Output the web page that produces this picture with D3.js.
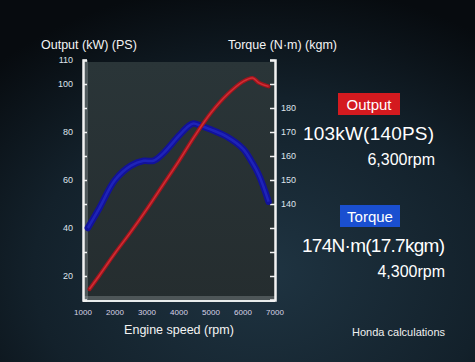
<!DOCTYPE html>
<html><head><meta charset="utf-8">
<script src="https://cdn.jsdelivr.net/npm/d3@7"></script>
<style>html,body{margin:0;padding:0;background:#000;}svg{display:block;}</style>
</head><body>
<script>
// ---- data ----
const rpmOutput = [1200, 1500, 2000, 2500, 3000, 3500, 4000, 4500, 5000, 5500, 6000, 6300, 6500, 6800];
const outputKW  = [14.5, 20, 29.5, 38.5, 48, 58, 68, 78.5, 88, 95.5, 101, 102.5, 100.5, 99];
const rpmTorque = [1150, 1500, 2000, 2500, 2900, 3200, 3500, 4000, 4300, 4450, 4700, 5000, 5500, 6000, 6300, 6500, 6800];
const torqueNm  = [130, 138, 150, 156, 158, 158, 161, 168.5, 172.5, 173.5, 172.5, 171, 168, 163, 157, 152, 141];
const xTicks = [1000, 2000, 3000, 4000, 5000, 6000, 7000];
const leftTicks = [20, 30, 40, 50, 60, 70, 80, 90, 100, 110];
const leftLabels = [20, 40, 60, 80, 100, 110];
const rightTicks = [110, 120, 130, 140, 150, 160, 170, 180, 190, 200];
const rightLabels = [140, 150, 160, 170, 180];

const W = 475, H = 362;
const svg = d3.select("body").append("svg").attr("width", W).attr("height", H);
const defs = svg.append("defs");

const bg = defs.append("radialGradient").attr("id", "bg").attr("cx", "0.55").attr("cy", "0.75").attr("r", "0.8");
bg.append("stop").attr("offset", "0").attr("stop-color", "#1f3442");
bg.append("stop").attr("offset", "0.6").attr("stop-color", "#13212b");
bg.append("stop").attr("offset", "1").attr("stop-color", "#070b0f");
svg.append("rect").attr("width", W).attr("height", H).attr("fill", "url(#bg)");

const pg = defs.append("linearGradient").attr("id", "pg").attr("x1", 0).attr("y1", 0).attr("x2", 0).attr("y2", 1);
pg.append("stop").attr("offset", "0").attr("stop-color", "#2a3538");
pg.append("stop").attr("offset", "1").attr("stop-color", "#252d2f");

const x = d3.scaleLinear().domain([1000, 7000]).range([83, 275]);
const yL = d3.scaleLinear().domain([10, 110]).range([300, 60]);
const yR = d3.scaleLinear().domain([100, 200]).range([300, 60]);

// plot area
svg.append("rect").attr("x", x(1000)).attr("y", yL(110) + 2).attr("width", x(7000) - x(1000)).attr("height", yL(10) - yL(110) - 2)
  .attr("fill", "url(#pg)");
// light frame bands
svg.append("rect").attr("x", x(1000)).attr("y", yL(110)).attr("width", 5).attr("height", yL(10) - yL(110))
  .attr("fill", "#9aa4a6").attr("opacity", 0.35);
svg.append("rect").attr("x", x(1000)).attr("y", yL(10) - 4).attr("width", x(7000) - x(1000)).attr("height", 4)
  .attr("fill", "#9aa4a6").attr("opacity", 0.35);
svg.append("line").attr("x1", x(1000)).attr("x2", x(7000)).attr("y1", yL(10) + 1).attr("y2", yL(10) + 1)
  .attr("stroke", "#e8ecec").attr("stroke-width", 2);

const font = "'Liberation Sans', Arial, sans-serif";

// left axis
const gl = svg.append("g").attr("transform", `translate(${x(1000)},0)`)
  .call(d3.axisRight(yL).tickValues(leftTicks).tickSize(4).tickFormat(""));
gl.select(".domain").attr("stroke", "#f2f2f2").attr("stroke-width", 2.5);
gl.selectAll(".tick line").attr("stroke", "#f2f2f2").attr("stroke-width", 1.5);
svg.append("g").selectAll("text").data(leftLabels).join("text")
  .attr("x", 73).attr("y", d => yL(d)).attr("dy", "0.35em").attr("text-anchor", "end")
  .attr("font-family", font).attr("font-size", 9).attr("fill", "#dfe3ec").text(d => d);

// right axis
const gr = svg.append("g").attr("transform", `translate(${x(7000)},0)`)
  .call(d3.axisLeft(yR).tickValues(rightTicks).tickSize(5).tickFormat(""));
gr.select(".domain").attr("stroke", "#f2f2f2").attr("stroke-width", 2.5);
gr.selectAll(".tick line").attr("stroke", "#f2f2f2").attr("stroke-width", 1.5);
svg.append("g").selectAll("text").data(rightLabels).join("text")
  .attr("x", 281).attr("y", d => yR(d)).attr("dy", "0.35em").attr("text-anchor", "start")
  .attr("font-family", font).attr("font-size", 9).attr("fill", "#dfe3ec").text(d => d);

// x tick labels
svg.append("g").selectAll("text").data(xTicks).join("text")
  .attr("x", d => x(d)).attr("y", 312).attr("dy", "0.35em").attr("text-anchor", "middle")
  .attr("font-family", font).attr("font-size", 8).attr("fill", "#d8d4e8").text(d => d);

// curves
const lineO = d3.line().x(d => x(d[0])).y(d => yL(d[1])).curve(d3.curveCatmullRom.alpha(0.5));
const lineT = d3.line().x(d => x(d[0])).y(d => yR(d[1])).curve(d3.curveCatmullRom.alpha(0.5));
const oData = d3.zip(rpmOutput, outputKW);
const tData = d3.zip(rpmTorque, torqueNm);

svg.append("path").datum(tData).attr("d", lineT).attr("fill", "none")
  .attr("stroke", "#12129a").attr("stroke-width", 6.5).attr("stroke-linecap", "round");
svg.append("path").datum(tData).attr("d", lineT).attr("fill", "none")
  .attr("stroke", "#2228c0").attr("stroke-width", 2.5).attr("opacity", 0.8);

svg.append("path").datum(oData).attr("d", lineO).attr("fill", "none")
  .attr("stroke", "#a0141c").attr("stroke-width", 4).attr("stroke-linecap", "round");
svg.append("path").datum(oData).attr("d", lineO).attr("fill", "none")
  .attr("stroke", "#d83238").attr("stroke-width", 1.5).attr("opacity", 0.85);

// titles
svg.append("text").attr("x", 41).attr("y", 49).attr("font-family", font).attr("font-size", 12.5)
  .attr("fill", "#f4f4f4").text("Output (kW) (PS)");
svg.append("text").attr("x", 228).attr("y", 49).attr("font-family", font).attr("font-size", 12.5)
  .attr("fill", "#f4f4f4").text("Torque (N·m) (kgm)");
svg.append("text").attr("x", 179).attr("y", 334).attr("text-anchor", "middle").attr("font-family", font).attr("font-size", 12.5)
  .attr("fill", "#f4f4f4").text("Engine speed (rpm)");

// annotation panel
svg.append("rect").attr("x", 338).attr("y", 93).attr("width", 62).attr("height", 22).attr("fill", "#d41a1f");
svg.append("text").attr("x", 369).attr("y", 109.5).attr("text-anchor", "middle").attr("font-family", font)
  .attr("font-size", 15).attr("fill", "#ffffff").text("Output");
svg.append("text").attr("x", 303).attr("y", 140).attr("font-family", font).attr("font-size", 19)
  .attr("fill", "#ffffff").attr("textLength", 131).text("103kW(140PS)");
svg.append("text").attr("x", 435).attr("y", 165).attr("text-anchor", "end").attr("font-family", font).attr("font-size", 16)
  .attr("fill", "#ffffff").text("6,300rpm");

svg.append("rect").attr("x", 340).attr("y", 205).attr("width", 60).attr("height", 22).attr("fill", "#1a4fd0");
svg.append("text").attr("x", 370).attr("y", 221.5).attr("text-anchor", "middle").attr("font-family", font)
  .attr("font-size", 15).attr("fill", "#ffffff").text("Torque");
svg.append("text").attr("x", 302).attr("y", 252).attr("font-family", font).attr("font-size", 19)
  .attr("fill", "#ffffff").attr("textLength", 143).text("174N·m(17.7kgm)");
svg.append("text").attr("x", 445).attr("y", 277).attr("text-anchor", "end").attr("font-family", font).attr("font-size", 16)
  .attr("fill", "#ffffff").text("4,300rpm");

svg.append("text").attr("x", 445).attr("y", 336).attr("text-anchor", "end").attr("font-family", font).attr("font-size", 11)
  .attr("fill", "#f0f0f0").text("Honda calculations");
</script>
</body></html>
